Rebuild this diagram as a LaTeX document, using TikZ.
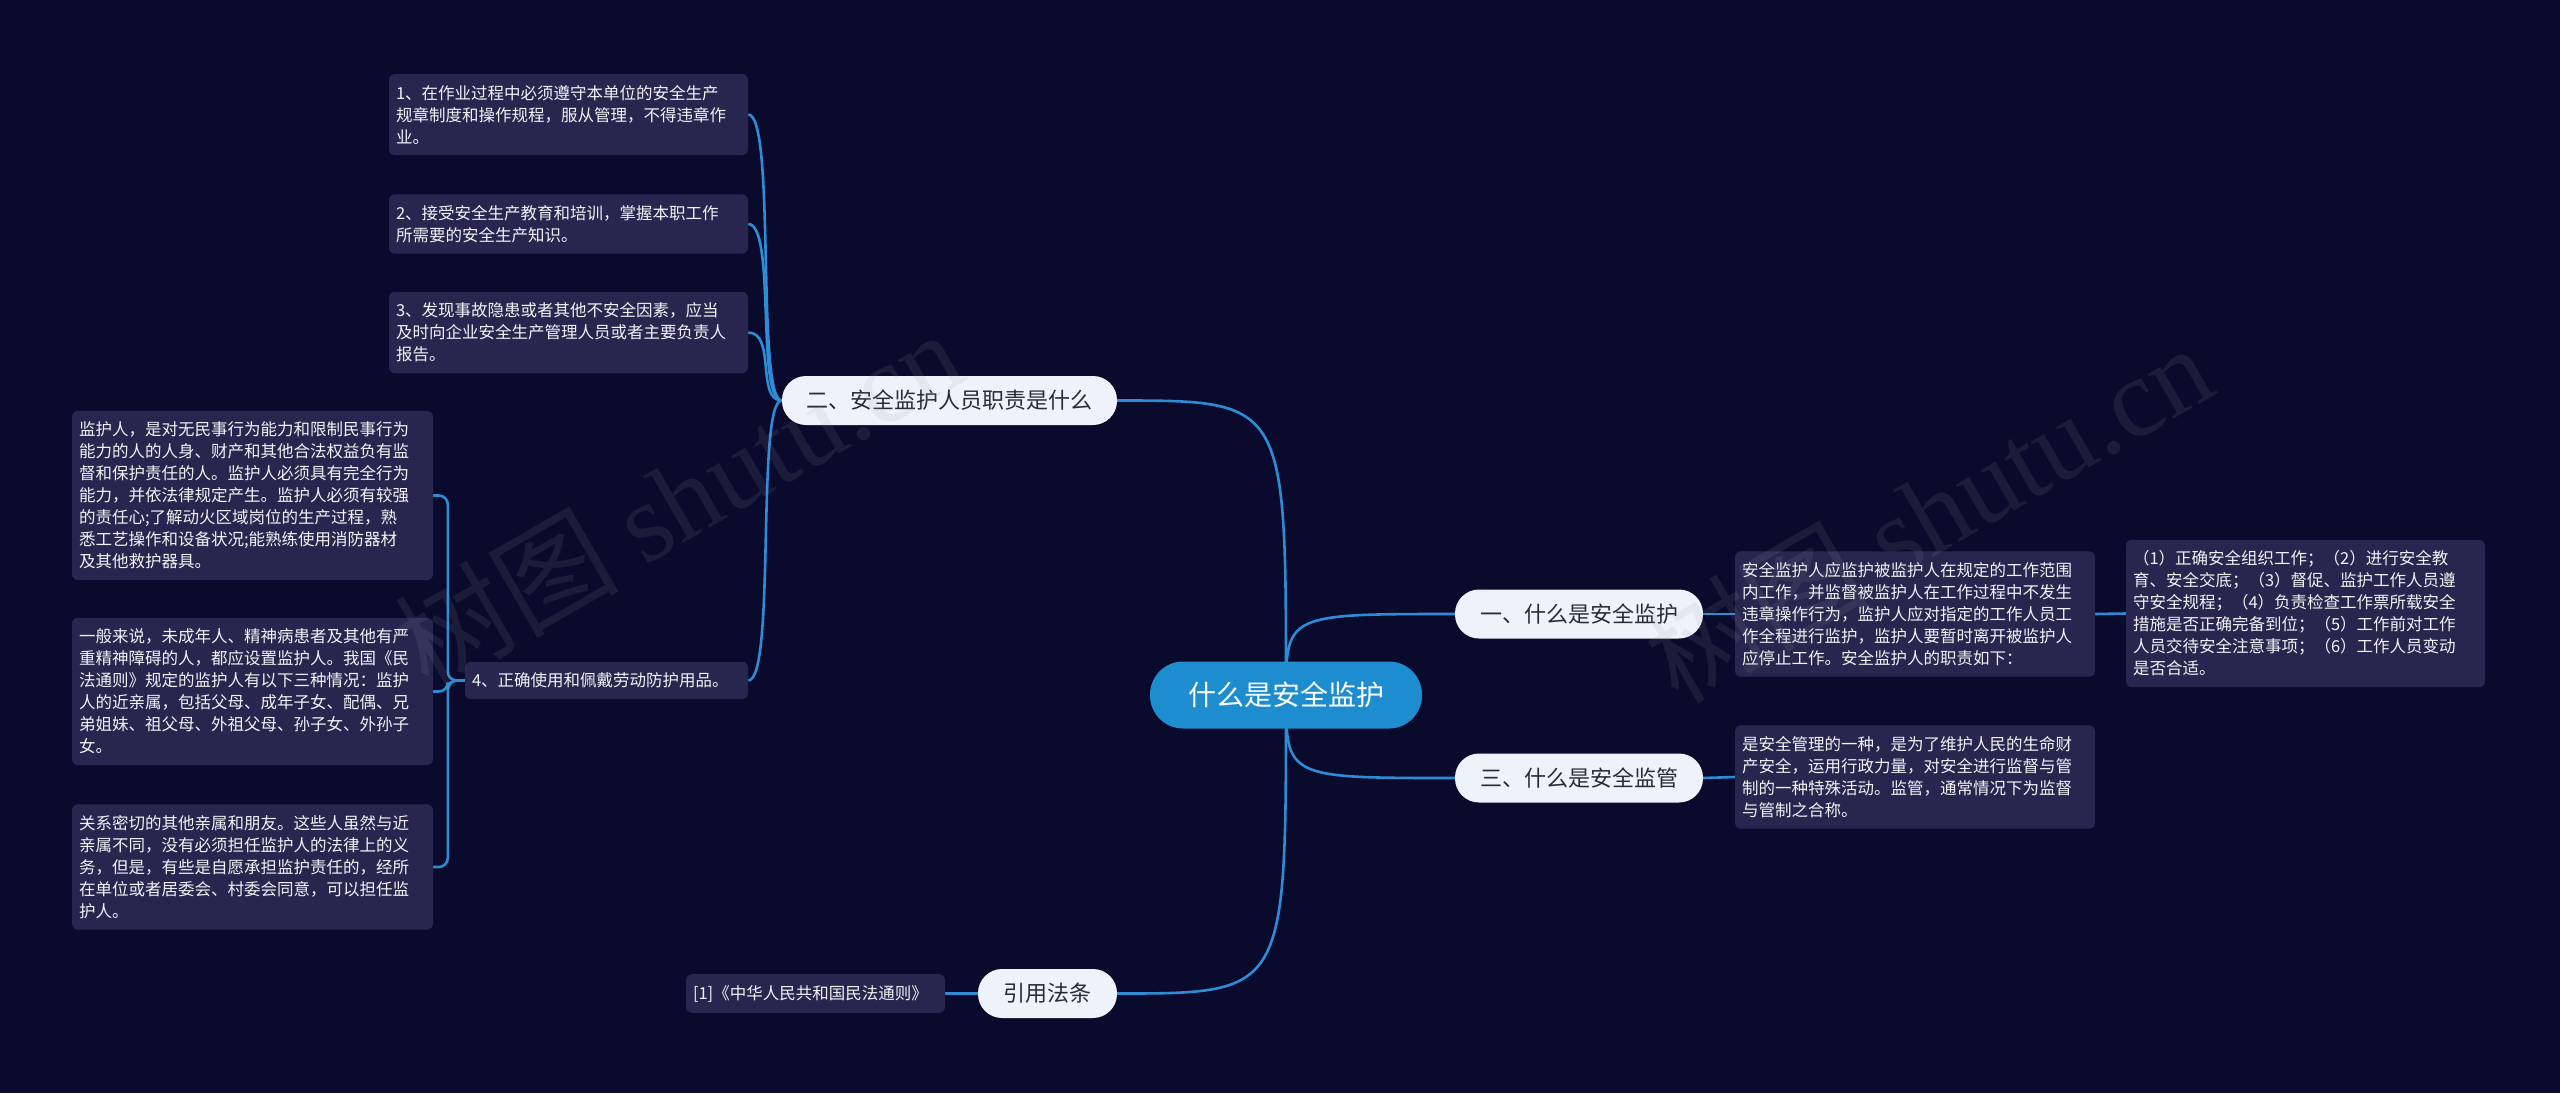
\documentclass[tikz,border=0pt]{standalone}
\usepackage{fontspec}
\setmainfont{Noto Sans CJK SC}
\newfontfamily\wmlatin{Liberation Serif}
\definecolor{bgc}{HTML}{0A0A2C}
\definecolor{leafc}{HTML}{28264E}
\definecolor{leaftext}{HTML}{F2F2F6}
\definecolor{linec}{HTML}{2C8CD6}
\definecolor{rootc}{HTML}{1E8DD0}
\definecolor{branchc}{HTML}{EDF2FB}
\definecolor{branchtext}{HTML}{2B2B33}
\definecolor{wmc}{HTML}{9A9AA6}
\pgfdeclarelayer{back}
\pgfdeclarelayer{links}
\pgfsetlayers{back,links,main}
\tikzset{
  leaf/.style={rectangle, rounded corners=6pt, fill=leafc, text=leaftext,
    font=\fontsize{16.5}{22}\selectfont, align=left, inner xsep=7pt, inner ysep=11pt},
  rootbox/.style={rectangle, rounded corners=33pt, fill=rootc, text=white,
    minimum width=272pt, minimum height=67pt, font=\fontsize{28}{28}\selectfont},
  branch/.style={rectangle, rounded corners=24pt, fill=branchc, text=branchtext,
    minimum height=49pt, inner xsep=0pt, font=\fontsize{22}{22}\selectfont},
  link/.style={draw=linec, line width=2.6pt},
  wm/.style={text=wmc, text opacity=0.12, inner sep=0pt, font=\fontsize{112}{112}\selectfont}
}
\begin{document}
\begin{tikzpicture}[x=1pt,y=-1pt]
\begin{pgfonlayer}{back}
\fill[bgc] (0,0) rectangle (2560,1093);
\end{pgfonlayer}
\useasboundingbox (0,0) rectangle (2560,1093);

% root and branches
\node[rootbox] (root) at (1286,695) {什么是安全监护};
\node[branch, minimum width=335pt] (b2) at (949.5,400.5) {二、安全监护人员职责是什么};
\node[branch, minimum width=248pt] (b1) at (1579,614) {一、什么是安全监护};
\node[branch, minimum width=248pt] (b3) at (1579,778) {三、什么是安全监管};
\node[branch, minimum width=139pt] (bref) at (1047.5,993.5) {引用法条};

% leaves of branch 2
\node[leaf, text width=345pt] (i1) at (568.5,114.5) {1、在作业过程中必须遵守本单位的安全生产\\规章制度和操作规程，服从管理，不得违章作\\业。};
\node[leaf, text width=345pt] (i2) at (568.5,224) {2、接受安全生产教育和培训，掌握本职工作\\所需要的安全生产知识。};
\node[leaf, text width=345pt] (i3) at (568.5,332.5) {3、发现事故隐患或者其他不安全因素，应当\\及时向企业安全生产管理人员或者主要负责人\\报告。};
\node[leaf, text width=269pt] (i4) at (606.5,680.5) {4、正确使用和佩戴劳动防护用品。};

% leaves of item 4
\node[leaf, text width=347pt] (g1) at (252.5,495.5) {监护人，是对无民事行为能力和限制民事行为\\能力的人的人身、财产和其他合法权益负有监\\督和保护责任的人。监护人必须具有完全行为\\能力，并依法律规定产生。监护人必须有较强\\的责任心;了解动火区域岗位的生产过程，熟\\悉工艺操作和设备状况;能熟练使用消防器材\\及其他救护器具。};
\node[leaf, text width=347pt] (g2) at (252.5,691.5) {一般来说，未成年人、精神病患者及其他有严\\重精神障碍的人，都应设置监护人。我国《民\\法通则》规定的监护人有以下三种情况：监护\\人的近亲属，包括父母、成年子女、配偶、兄\\弟姐妹、祖父母、外祖父母、孙子女、外孙子\\女。};
\node[leaf, text width=347pt] (g3) at (252.5,867) {关系密切的其他亲属和朋友。这些人虽然与近\\亲属不同，没有必须担任监护人的法律上的义\\务，但是，有些是自愿承担监护责任的，经所\\在单位或者居委会、村委会同意，可以担任监\\护人。};

% right side
\node[leaf, text width=346pt] (r1) at (1915,614) {安全监护人应监护被监护人在规定的工作范围\\内工作，并监督被监护人在工作过程中不发生\\违章操作行为，监护人应对指定的工作人员工\\作全程进行监护，监护人要暂时离开被监护人\\应停止工作。安全监护人的职责如下：};
\node[leaf, text width=345pt] (r2) at (2305.5,613.5) {（1）正确安全组织工作；（2）进行安全教\\育、安全交底；（3）督促、监护工作人员遵\\守安全规程；（4）负责检查工作票所载安全\\措施是否正确完备到位；（5）工作前对工作\\人员交待安全注意事项；（6）工作人员变动\\是否合适。};
\node[leaf, text width=346pt] (r3) at (1915,777) {是安全管理的一种，是为了维护人民的生命财\\产安全，运用行政力量，对安全进行监督与管\\制的一种特殊活动。监管，通常情况下为监督\\与管制之合称。};

% reference leaf
\node[leaf, text width=245pt] (ref1) at (815.5,993.5) {[1]《中华人民共和国民法通则》};

% connectors
\begin{pgfonlayer}{links}
\draw[link] (root.center) .. controls (root.center |- b2.east) .. (b2.east);
\draw[link] (root.center) .. controls (root.center |- b1.west) .. (b1.west);
\draw[link] (root.center) .. controls (root.center |- b3.west) .. (b3.west);
\draw[link] (root.center) .. controls (root.center |- bref.east) .. (bref.east);
\foreach \t in {i1,i2,i3,i4}
  \draw[link] (b2.west) .. controls +(-26,0) and +(28,0) .. (\t.east);
\foreach \t in {g1,g2,g3}
  \draw[link, rounded corners=9pt] (i4.west) -- ++(-17,0) |- (\t.east);
\draw[link] (b1.east) -- (r1.west);
\draw[link] (r1.east) -- (r2.west);
\draw[link] (b3.east) -- (r3.west);
\draw[link] (bref.west) -- (ref1.east);
\end{pgfonlayer}

% watermarks
\node[wm, rotate=30] (wm1) at (678,498) {树图 {\wmlatin shutu.cn}};
\node[wm, rotate=30] (wm2) at (1928,512) {树图 {\wmlatin shutu.cn}};
\end{tikzpicture}
\end{document}
